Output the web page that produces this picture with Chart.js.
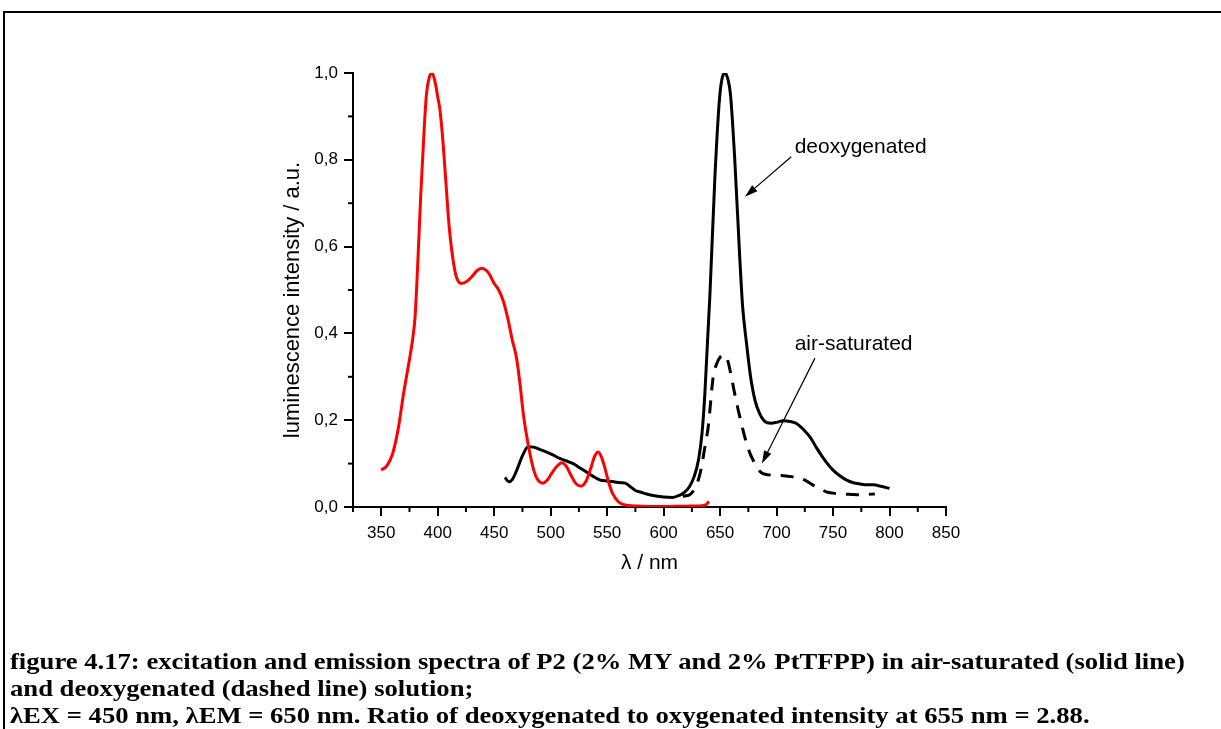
<!DOCTYPE html>
<html>
<head>
<meta charset="utf-8">
<script src="https://cdn.jsdelivr.net/npm/chart.js@4.4.1/dist/chart.umd.min.js"></script>
<style>
  body { margin: 0; background: #fff; overflow: hidden; }
  #frame { position: absolute; left: 3px; top: 11px; width: 1300px; height: 800px; border: 2px solid #000; }
  #chart { position: absolute; left: 0; top: 0; }
  #caption { position: absolute; left: 10px; top: 648px; font-family: "Liberation Serif", "Times New Roman", serif;
    font-weight: bold; font-size: 24px; line-height: 27px; white-space: nowrap; color: #000;
    transform: scaleX(1.11); transform-origin: 0 0; }
</style>
</head>
<body>
<div id="frame"></div>
<canvas id="chart" width="1221" height="729"></canvas>
<div id="caption">
  figure 4.17: excitation and emission spectra of P2 (2% MY and 2% PtTFPP) in air-saturated (solid line)<br>
  and deoxygenated (dashed line) solution;<br>
  λEX = 450 nm, λEM = 650 nm. Ratio of deoxygenated to oxygenated intensity at 655 nm = 2.88.
</div>
<script>
// excitation spectrum (red)
var exWl = [350, 355, 360, 365, 370, 375, 378, 380, 383, 385, 388, 390, 392.5, 395, 398, 400, 402, 405, 408, 410, 412, 416, 421, 426, 430, 435, 439, 443, 446, 450, 454, 458, 462, 466, 470, 473, 476, 479, 482, 485, 488, 493, 497, 501, 505, 510, 514, 518, 522, 527, 531, 535, 539, 542, 545, 548, 551, 555, 560, 567, 580, 600, 620, 634, 638, 640];
var exInt = [0.085, 0.095, 0.122, 0.18, 0.265, 0.34, 0.39, 0.44, 0.6, 0.72, 0.87, 0.95, 0.99, 1.0, 0.975, 0.945, 0.915, 0.83, 0.72, 0.65, 0.6, 0.535, 0.515, 0.52, 0.53, 0.545, 0.55, 0.545, 0.535, 0.515, 0.5, 0.475, 0.435, 0.385, 0.34, 0.28, 0.21, 0.16, 0.118, 0.085, 0.065, 0.055, 0.062, 0.078, 0.092, 0.102, 0.093, 0.073, 0.055, 0.048, 0.058, 0.085, 0.117, 0.127, 0.115, 0.09, 0.06, 0.03, 0.012, 0.004, 0.002, 0.001, 0.002, 0.003, 0.006, 0.013];

// emission, deoxygenated (solid black)
var deoxWl = [459.5, 463, 466, 470, 475, 480, 485, 490, 496, 502, 508, 514, 520, 526, 532, 538, 544, 550, 556, 562, 566, 570, 575, 580, 585, 592, 600, 608, 614, 619, 623, 627, 631, 634, 636.5, 641, 645.4, 649.8, 654.2, 657, 659.2, 663, 667.5, 670, 673.4, 677, 680.8, 685, 689.6, 695, 700, 706, 712, 718, 724, 730, 735, 740, 745, 750, 756, 762, 768, 774, 780, 786, 792, 800];
var deoxInt = [0.068, 0.058, 0.063, 0.085, 0.118, 0.139, 0.138, 0.133, 0.127, 0.12, 0.112, 0.106, 0.1, 0.09, 0.08, 0.07, 0.062, 0.06, 0.058, 0.056, 0.055, 0.048, 0.038, 0.034, 0.03, 0.026, 0.023, 0.022, 0.027, 0.035, 0.047, 0.07, 0.11, 0.17, 0.26, 0.49, 0.76, 0.95, 1.0, 0.985, 0.95, 0.8, 0.57, 0.46, 0.377, 0.3, 0.247, 0.215, 0.197, 0.193, 0.195, 0.199, 0.197, 0.192, 0.178, 0.16, 0.138, 0.118, 0.1, 0.085, 0.072, 0.062, 0.056, 0.053, 0.051, 0.051, 0.048, 0.043];

// emission, air-saturated (dashed black)
var airWl = [617, 623, 627.6, 631, 633.6, 636, 639.5, 643.9, 647, 650, 654, 657, 660, 663, 666, 670, 673.4, 677, 681, 685, 688, 693, 700, 706, 713, 721, 727, 732, 738, 744, 750, 759, 766, 774, 781, 787];
var airInt = [0.025, 0.028, 0.043, 0.065, 0.093, 0.13, 0.185, 0.3, 0.33, 0.345, 0.35, 0.335, 0.3, 0.26, 0.224, 0.18, 0.147, 0.12, 0.1, 0.083, 0.077, 0.074, 0.073, 0.072, 0.07, 0.066, 0.059, 0.051, 0.043, 0.035, 0.032, 0.03, 0.029, 0.028, 0.029, 0.03];

var xTicks = [350, 400, 450, 500, 550, 600, 650, 700, 750, 800, 850];
var xMinor = [325, 375, 425, 475, 525, 575, 625, 675, 725, 775, 825];
var yMinor = [0.1, 0.3, 0.5, 0.7, 0.9];

function pts(xs, ys) {
  var out = [];
  for (var i = 0; i < xs.length; i++) out.push({x: xs[i], y: ys[i]});
  return out;
}

var tickFont = {family: '"Liberation Sans", Arial, sans-serif', size: 17};

var extras = {
  id: 'extras',
  afterDraw: function(chart) {
    var c = chart.ctx;
    var xs = chart.scales.x, ys = chart.scales.y, area = chart.chartArea;
    c.save();
    c.strokeStyle = '#000';
    c.fillStyle = '#000';
    c.lineWidth = 2;
    // minor ticks
    xMinor.forEach(function(v) {
      var px = xs.getPixelForValue(v);
      c.beginPath(); c.moveTo(px, area.bottom); c.lineTo(px, area.bottom + 5); c.stroke();
    });
    yMinor.forEach(function(v) {
      var py = ys.getPixelForValue(v);
      c.beginPath(); c.moveTo(area.left, py); c.lineTo(area.left - 5, py); c.stroke();
    });
    // axis titles
    c.font = '21px "Liberation Sans", Arial, sans-serif';
    c.textAlign = 'center';
    c.textBaseline = 'middle';
    c.fillText('λ / nm', (area.left + area.right) / 2, area.bottom + 56);
    c.save();
    c.font = '22px "Liberation Sans", Arial, sans-serif';
    c.translate(area.left - 60, (area.top + area.bottom) / 2 + 10);
    c.rotate(-Math.PI / 2);
    c.fillText('luminescence intensity / a.u.', 0, 0);
    c.restore();
    // annotations
    c.textAlign = 'left';
    c.textBaseline = 'alphabetic';
    c.fillText('deoxygenated', xs.getPixelForValue(716), ys.getPixelForValue(0.816));
    c.fillText('air-saturated', xs.getPixelForValue(716), ys.getPixelForValue(0.362));
    arrow(c, xs.getPixelForValue(713), ys.getPixelForValue(0.807), xs.getPixelForValue(672), ys.getPixelForValue(0.715));
    arrow(c, xs.getPixelForValue(734), ys.getPixelForValue(0.343), xs.getPixelForValue(687), ys.getPixelForValue(0.1));
    c.restore();
  }
};

function arrow(c, x1, y1, x2, y2) {
  var ang = Math.atan2(y2 - y1, x2 - x1);
  var len = 13, w = 4;
  c.lineWidth = 1.2;
  c.beginPath();
  c.moveTo(x1, y1);
  c.lineTo(x2 - Math.cos(ang) * len * 0.8, y2 - Math.sin(ang) * len * 0.8);
  c.stroke();
  c.beginPath();
  c.moveTo(x2, y2);
  c.lineTo(x2 - Math.cos(ang) * len - Math.sin(ang) * w, y2 - Math.sin(ang) * len + Math.cos(ang) * w);
  c.lineTo(x2 - Math.cos(ang) * len + Math.sin(ang) * w, y2 - Math.sin(ang) * len - Math.cos(ang) * w);
  c.closePath();
  c.fill();
}

var ctx = document.getElementById('chart').getContext('2d');
var myChart = new Chart(ctx, {
  type: 'line',
  data: {
    datasets: [{
      label: 'excitation',
      data: pts(exWl, exInt),
      borderColor: 'rgb(255,0,0)',
      borderWidth: 3,
      pointRadius: 0,
      cubicInterpolationMode: 'monotone'
    }, {
      label: 'deoxygenated',
      data: pts(deoxWl, deoxInt),
      borderColor: '#000',
      borderWidth: 3,
      pointRadius: 0,
      cubicInterpolationMode: 'monotone'
    }, {
      label: 'air-saturated',
      data: pts(airWl, airInt),
      borderColor: '#000',
      borderWidth: 3,
      borderDash: [13, 10],
      pointRadius: 0,
      cubicInterpolationMode: 'monotone'
    }]
  },
  options: {
    responsive: false,
    animation: false,
    events: [],
    layout: { padding: { left: 253, right: 275, top: 73, bottom: 122 } },
    plugins: { legend: { display: false }, tooltip: { enabled: false } },
    scales: {
      x: {
        type: 'linear',
        min: 325,
        max: 850,
        afterBuildTicks: function(scale) {
          scale.ticks = xTicks.map(function(v) { return {value: v}; });
        },
        afterFit: function(scale) { scale.height = 100; },
        border: { color: '#000', width: 2 },
        grid: { drawOnChartArea: false, color: '#000', lineWidth: 2, tickLength: 9 },
        ticks: { color: '#000', font: tickFont, padding: 7, maxRotation: 0, autoSkip: false,
          callback: function(v) { return String(v); } }
      },
      y: {
        min: 0,
        max: 1,
        afterFit: function(scale) { scale.width = 100; },
        border: { color: '#000', width: 2 },
        grid: { drawOnChartArea: false, color: '#000', lineWidth: 2, tickLength: 9 },
        ticks: { color: '#000', font: tickFont, padding: 6, stepSize: 0.2,
          callback: function(v) { return v.toFixed(1).replace('.', ','); } }
      }
    }
  },
  plugins: [extras]
});
</script>
</body>
</html>
